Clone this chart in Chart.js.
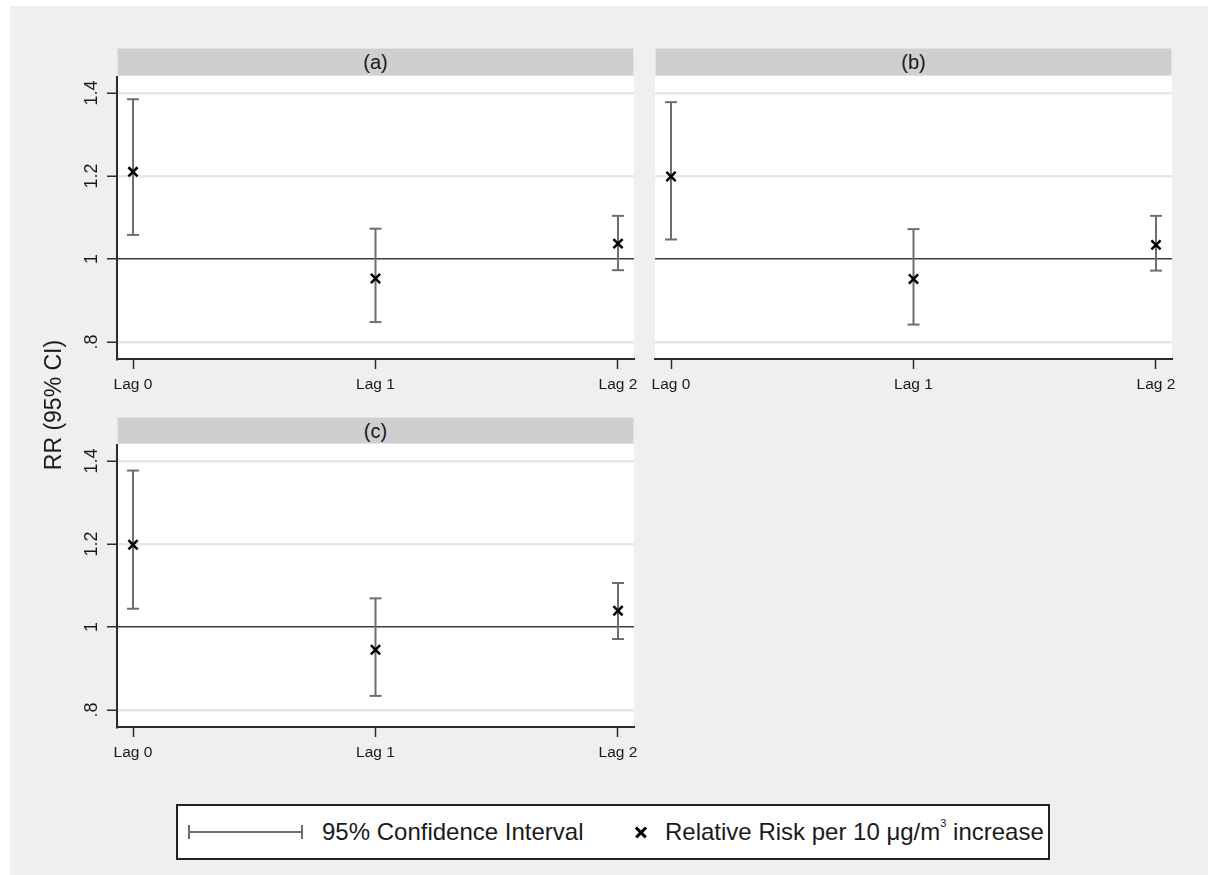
<!DOCTYPE html>
<html>
<head>
<meta charset="utf-8">
<script src="https://cdn.jsdelivr.net/npm/chart.js@4"></script>
<style>
    body { margin: 0; background: #fff; font-family: "Liberation Sans", Arial, sans-serif; color: #1a1a1a; }
    #graph { position: absolute; left: 10px; top: 6px; width: 1198px; height: 869px; background: #efefef; }
    .panel { position: absolute; }
    .strip { position: absolute; background: #cfcfcf; border: 1px solid #dbe4ea; box-sizing: border-box;
             text-align: center; font-size: 20px; line-height: 26px; color: #1a1a1a; }
    #ytitle { position: absolute; left: -47px; top: 390px; width: 200px; height: 30px; line-height: 30px;
              text-align: center; font-size: 23px; transform: rotate(-90deg); }
    #legend { position: absolute; left: 176px; top: 804px; width: 874px; height: 56px; background: #fff;
              border: 2px solid #222; box-sizing: border-box; }
    #legend .lbl { position: absolute; top: 10px; font-size: 24px; line-height: 32px; white-space: nowrap; }
    #legend sup { font-size: 11px; vertical-align: baseline; line-height: 0; position: relative; top: -13px; }
    .ci-sym { position: absolute; left: 10px; top: 19px; width: 115px; height: 14px; box-sizing: border-box;
              border-left: 2px solid #6e6e6e; border-right: 2px solid #6e6e6e;
              background: linear-gradient(#6e6e6e, #6e6e6e) center / 100% 2px no-repeat; }
    .x-sym { position: absolute; left: 457px; top: 20px; width: 12px; height: 12px; }
    .x-sym::before, .x-sym::after { content: ""; position: absolute; left: -1px; top: 5px; width: 14px; height: 2.5px; background: #000; }
    .x-sym::before { transform: rotate(45deg); }
    .x-sym::after { transform: rotate(-45deg); }
</style>
</head>
<body>
<div id="graph"></div>

<div class="strip" style="left:117px; top:48px; width:517px; height:28px;">(a)</div>
<div class="strip" style="left:655px; top:48px; width:517px; height:28px;">(b)</div>
<div class="strip" style="left:117px; top:417px; width:517px; height:27px;">(c)</div>

<div class="panel" style="left:60px; top:76px; width:586px; height:320px;"><canvas id="panelA"></canvas></div>
<div class="panel" style="left:643px; top:76px; width:541px; height:320px;"><canvas id="panelB"></canvas></div>
<div class="panel" style="left:60px; top:444px; width:586px; height:320px;"><canvas id="panelC"></canvas></div>

<div id="ytitle">RR (95% CI)</div>

<div id="legend">
    <span class="ci-sym"></span>
    <span class="lbl" style="left:144px;">95% Confidence Interval</span>
    <span class="x-sym"></span>
    <span class="lbl" style="left:487px;">Relative Risk per 10 μg/m<sup>3</sup> increase</span>
</div>

<script>
var FONT = '"Liberation Sans", Arial, sans-serif';

// categories and ticks
var lagLabels = ["Lag 0", "Lag 1", "Lag 2"];
var lagPos = [0, 1, 2];
var yTickVals = [0.8, 1, 1.2, 1.4];
var yTickText = [".8", "1", "1.2", "1.4"];

// (a)
var rrA = [1.210, 0.953, 1.037];
var lowA = [1.058, 0.848, 0.973];
var highA = [1.385, 1.073, 1.104];

// (b)
var rrB = [1.199, 0.952, 1.034];
var lowB = [1.047, 0.842, 0.972];
var highB = [1.378, 1.072, 1.104];

// (c)
var rrC = [1.198, 0.945, 1.039];
var lowC = [1.044, 0.834, 0.971];
var highC = [1.377, 1.069, 1.106];

//- white plot region -
var plotBg = {
    id: "plotBg",
    beforeDraw: function (chart) {
        var a = chart.chartArea;
        var ctx = chart.ctx;
        ctx.save();
        ctx.fillStyle = "#ffffff";
        ctx.fillRect(a.left, a.top, a.right - a.left, a.bottom - a.top);
        ctx.restore();
    },
};

//- vertical y tick labels (Stata style) -
var vTicks = {
    id: "vTicks",
    afterDraw: function (chart, args, opts) {
        if (!opts.show) return;
        var s = chart.scales.y;
        var ctx = chart.ctx;
        ctx.save();
        ctx.fillStyle = "#1a1a1a";
        ctx.font = "18px " + FONT;
        ctx.textAlign = "center";
        ctx.textBaseline = "middle";
        yTickVals.forEach(function (v, i) {
            var y = s.getPixelForValue(v);
            ctx.save();
            ctx.translate(s.right - 25, y);
            ctx.rotate(-Math.PI / 2);
            ctx.fillText(yTickText[i], 0, 0);
            ctx.restore();
        });
        ctx.restore();
    },
};

function makePanel(id, rr, low, high, showY) {
    var ciData = [];
    lagPos.forEach(function (x, i) {
        ciData.push({ x: x, y: low[i] }, { x: x, y: high[i] }, { x: x, y: null });
    });
    var rrData = lagPos.map(function (x, i) {
        return { x: x, y: rr[i] };
    });

    new Chart(document.getElementById(id), {
        type: "scatter",
        data: {
            datasets: [
                {
                    label: "Relative Risk per 10 μg/m³ increase",
                    data: rrData,
                    order: 0,
                    pointStyle: "crossRot",
                    pointRadius: 6.5,
                    pointBorderWidth: 2.5,
                    borderColor: "#000",
                    backgroundColor: "#000",
                },
                {
                    label: "95% Confidence Interval",
                    data: ciData,
                    order: 1,
                    showLine: true,
                    spanGaps: false,
                    borderColor: "#6e6e6e",
                    borderWidth: 2,
                    pointStyle: "line",
                    pointRadius: 6,
                    pointBorderWidth: 2,
                    pointBorderColor: "#6e6e6e",
                },
            ],
        },
        options: {
            responsive: true,
            maintainAspectRatio: false,
            animation: false,
            events: [],
            layout: { autoPadding: false, padding: { left: showY ? 0 : 12, right: 12, top: 0, bottom: 0 } },
            plugins: {
                legend: { display: false },
                tooltip: { enabled: false },
                vTicks: { show: showY },
            },
            scales: {
                x: {
                    type: "linear",
                    min: -0.066,
                    max: 2.066,
                    afterBuildTicks: function (s) {
                        s.ticks = lagPos.map(function (v) { return { value: v }; });
                    },
                    afterFit: function (s) { s.height = 37; },
                    ticks: {
                        callback: function (v) { return lagLabels[lagPos.indexOf(v)]; },
                        color: "#1a1a1a",
                        font: { size: 15.5, family: FONT },
                        padding: 6,
                        maxRotation: 0,
                        autoSkip: false,
                    },
                    grid: {
                        drawOnChartArea: false,
                        tickColor: "#2b2b2b",
                        tickLength: 10,
                        tickWidth: 1.5,
                    },
                    border: { display: true, color: "#2b2b2b", width: 2 },
                },
                y: {
                    min: 0.759,
                    max: 1.441,
                    afterBuildTicks: function (s) {
                        s.ticks = yTickVals.map(function (v) { return { value: v }; });
                    },
                    afterFit: function (s) { s.width = showY ? 57 : 0; },
                    ticks: { display: false },
                    grid: {
                        color: function (c) { return c.tick && c.tick.value === 1 ? "#3c3c3c" : "#e6e6e6"; },
                        lineWidth: function (c) { return c.tick && c.tick.value === 1 ? 1.5 : 2.5; },
                        drawTicks: showY,
                        tickColor: "#2b2b2b",
                        tickLength: showY ? 10 : 0,
                        tickWidth: 1.5,
                    },
                    border: { display: showY, color: "#2b2b2b", width: 2 },
                },
            },
        },
        plugins: [plotBg, vTicks],
    });
}

makePanel("panelA", rrA, lowA, highA, true);
makePanel("panelB", rrB, lowB, highB, false);
makePanel("panelC", rrC, lowC, highC, true);
</script>
</body>
</html>
